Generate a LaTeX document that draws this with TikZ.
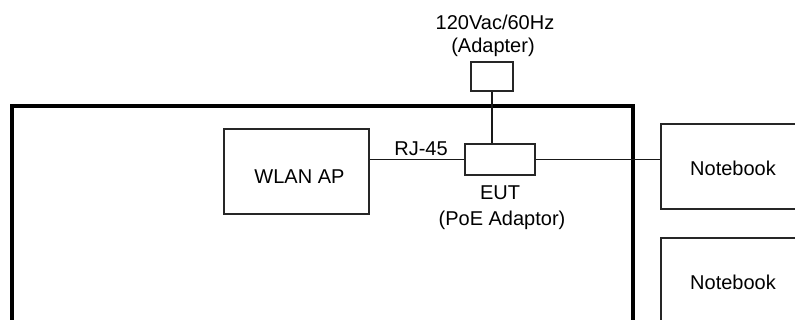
\documentclass[tikz,border=0pt]{standalone}
\usepackage{fontspec}
\setmainfont{Liberation Sans}
\begin{document}
\begin{tikzpicture}[x=1pt,y=-1pt,
  box/.style={draw=black!85,line width=2pt,rectangle,inner sep=0pt,font=\fontsize{20}{22}\selectfont},
  wire/.style={draw=black!90,line width=1.6pt},
  lbl/.style={inner sep=0pt,font=\fontsize{20}{22}\selectfont,align=center}]
\clip (0,0) rectangle (795,320);
\fill[white] (0,0) rectangle (795,320);
\draw[line width=4pt] (12,330) -- (12,106) -- (633,106) -- (633,330);
\node[box,minimum width=145pt,minimum height=85pt] (wlan) at (296.5,171.5) {\hspace*{6pt}\raisebox{-12.5pt}[0pt][0pt]{WLAN AP}};
\node[box,minimum width=70pt,minimum height=31pt] (eut) at (500,159.5) {};
\node[box,minimum width=42pt,minimum height=29pt] (adapter) at (492,76.5) {};
\node[box,minimum width=150pt,minimum height=85pt] (nb1) at (736,166.5) {\hspace*{-6pt}\raisebox{-9.5pt}[0pt][0pt]{Notebook}};
\node[box,minimum width=150pt,minimum height=90pt] (nb2) at (736,283) {\hspace*{-6pt}\raisebox{-7pt}[0pt][0pt]{Notebook}};
\node[lbl] (ac) at (495,22) {120Vac/60Hz};
\node[lbl] (adl) at (493,47) {(Adapter)};
\node[lbl] (rj) at (421,149) {RJ-45};
\node[lbl] (eutl) at (500,193) {EUT};
\node[lbl] (poe) at (502,220) {(PoE Adaptor)};
\draw[wire] (wlan.east |- eut.west) -- (eut.west);
\draw[wire] (eut.east) -- (eut.east -| nb1.west);
\draw[wire] (adapter.south) -- (adapter.south |- eut.north);
\end{tikzpicture}
\end{document}
